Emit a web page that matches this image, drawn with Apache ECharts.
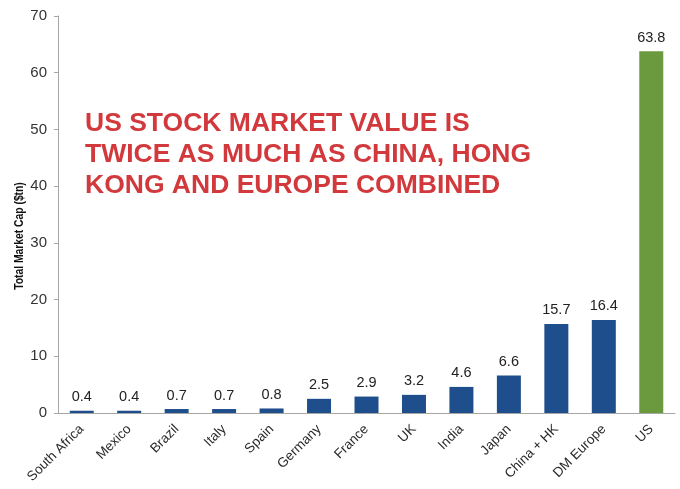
<!DOCTYPE html>
<html><head><meta charset="utf-8">
<script src="https://cdn.jsdelivr.net/npm/echarts@6/dist/echarts.min.js"></script>
<style>html,body{margin:0;padding:0;background:#fff}#c{width:680px;height:489px}</style>
</head><body><div id="c"></div>
<script>
const categories = ['South Africa','Mexico','Brazil','Italy','Spain','Germany','France','UK','India','Japan','China + HK','DM Europe','US'];
const values = [0.4,0.4,0.7,0.7,0.8,2.5,2.9,3.2,4.6,6.6,15.7,16.4,63.8];
const highlight = 'US';
const yTicks = {min:0, max:70, interval:10};
const titleLines = ['US STOCK MARKET VALUE IS','TWICE AS MUCH AS CHINA, HONG','KONG AND EUROPE COMBINED'];
const yName = 'Total Market Cap ($tn)';

const chart = echarts.init(document.getElementById('c'), null, {renderer:'canvas'});
const FONT = 'Liberation Sans, Arial, sans-serif';
chart.setOption({
  animation:false,
  backgroundColor:'#fff',
  grid:{left:58, right:5, top:16, bottom:76, containLabel:false},
  xAxis:{type:'category', data:categories,
    axisLine:{lineStyle:{color:'#a6a6a6', width:1}},
    axisTick:{show:false},
    axisLabel:{rotate:45, color:'#2a2a2a', fontSize:13.5, fontFamily:FONT, margin:14, interval:0}
  },
  yAxis:{type:'value', min:yTicks.min, max:yTicks.max, interval:yTicks.interval,
    axisLine:{show:true, lineStyle:{color:'#a6a6a6'}},
    axisTick:{show:true, length:4, lineStyle:{color:'#a6a6a6'}},
    splitLine:{show:false},
    axisLabel:{color:'#333', fontSize:15, fontFamily:FONT, margin:11}
  },
  graphic:[
    {type:'text', left:85, top:108, style:{text:titleLines.join('\n'), fill:'#d2393c', font:'bold 26.5px '+FONT, lineHeight:31}},
    {type:'text', x:20, y:236, rotation:Math.PI/2, scaleX:0.86, style:{text:yName, fill:'#111', font:'bold 12px '+FONT, align:'center', verticalAlign:'middle'}}
  ],
  series:[{type:'bar', barWidth:24,
    data: values.map((v,i)=>({value:v, itemStyle:{color: categories[i]===highlight ? '#6b9a3e' : '#1f4e8c'}})),
    label:{show:true, position:'top', color:'#222', fontSize:14.5, fontFamily:FONT, distance:6}
  }]
});
</script></body></html>
